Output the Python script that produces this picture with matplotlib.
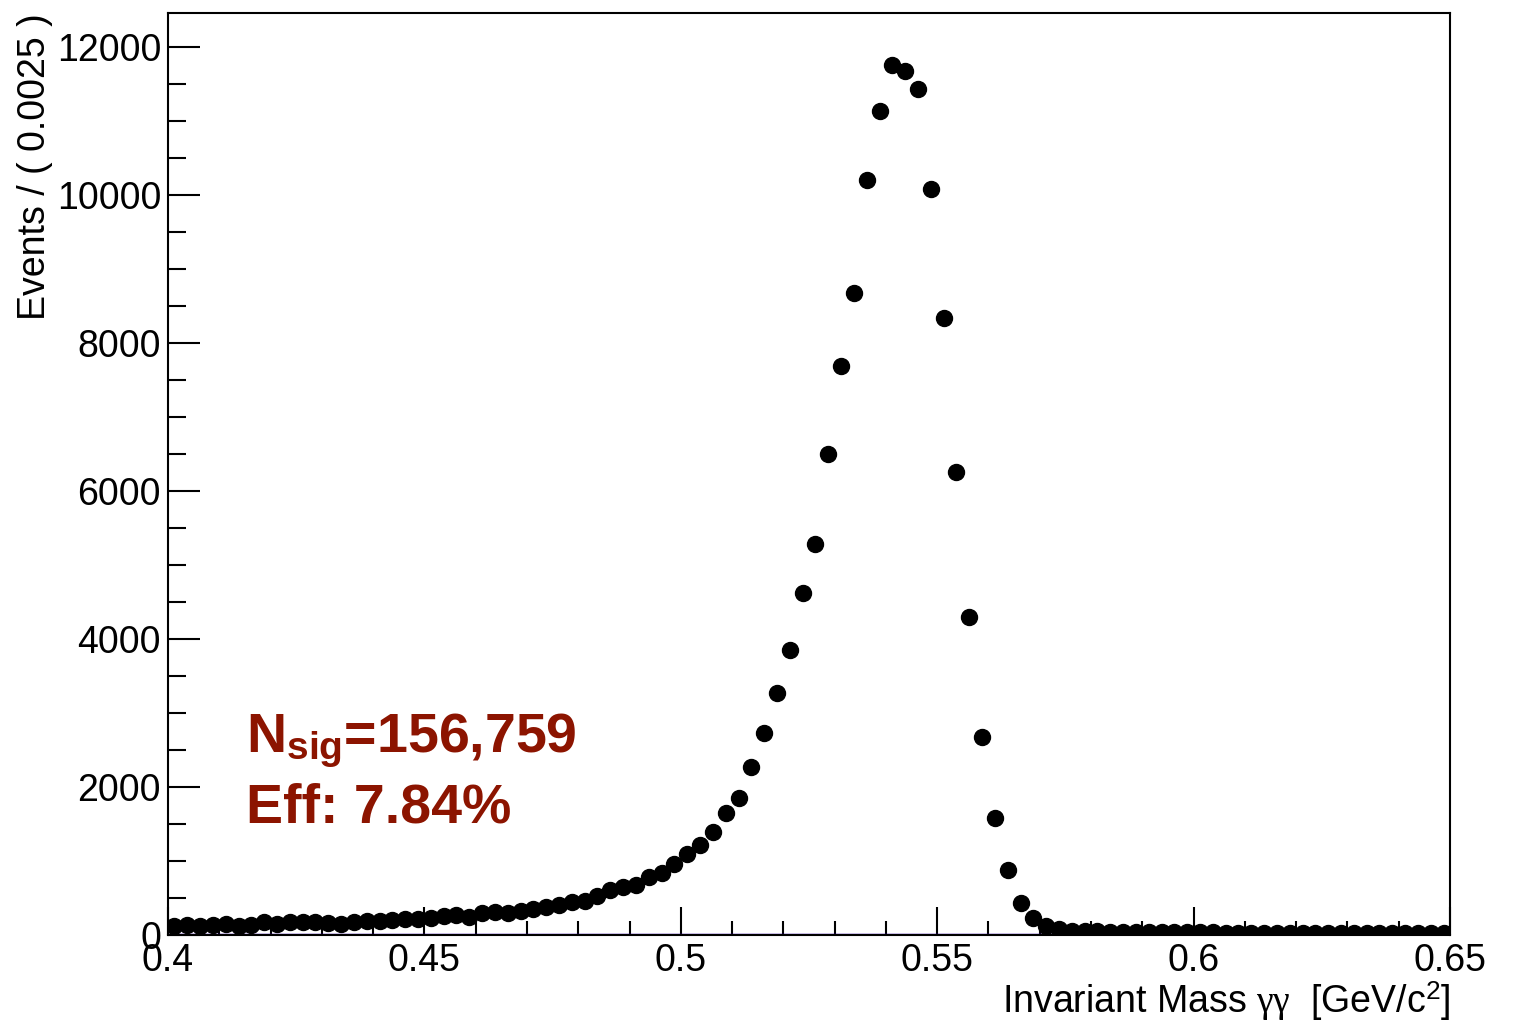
import numpy as np
import matplotlib
matplotlib.use("Agg")
import matplotlib.pyplot as plt
from matplotlib.ticker import MultipleLocator

plt.rcParams["font.family"] = ["Liberation Sans", "DejaVu Sans"]
plt.rcParams["mathtext.fontset"] = "custom"
plt.rcParams["mathtext.rm"] = "Liberation Sans"
plt.rcParams["mathtext.it"] = "Liberation Serif"
plt.rcParams["mathtext.bf"] = "Liberation Sans:bold"

# ===== dados =====
X_MIN, X_MAX, N_BINS = 0.40, 0.65, 100
counts = [
    120, 140, 125, 140, 145, 120, 135, 170, 150, 175,
    180, 175, 165, 155, 175, 190, 185, 200, 210, 215,
    230, 255, 265, 245, 300, 310, 295, 320, 350, 380,
    400, 440, 460, 530, 610, 650, 680, 784, 838, 959,
    1095, 1216, 1392, 1649, 1851, 2270, 2730, 3270, 3851, 4622,
    5284, 6500, 7689, 8676, 10203, 11135, 11757, 11676, 11432, 10081,
    8338, 6257, 4297, 2676, 1581, 878, 432, 230, 120, 80,
    60, 50, 48, 45, 42, 40, 40, 38, 36, 35,
    35, 34, 33, 32, 32, 31, 30, 30, 29, 28,
    28, 27, 27, 26, 26, 25, 25, 24, 24, 23,
]
texto_nsig = r"N$_{\mathbf{sig}}$=156,759"
texto_eff = "Eff: 7.84%"
# ====================================

bin_w = (X_MAX - X_MIN) / N_BINS
centros = X_MIN + bin_w * (np.arange(N_BINS) + 0.5)
y = np.array(counts, dtype=float)
erro = np.sqrt(y)

fig = plt.figure(figsize=(15.15, 10.25), dpi=100)
ax = fig.add_axes([0.1109, 0.0878, 0.8462, 0.8995])

ax.errorbar(centros, y, yerr=erro, fmt="o", color="black", ms=11.5,
            elinewidth=1.5, capsize=0, zorder=3)
ax.axhline(0, color="#3d00b8", lw=2.5, zorder=2)

ax.set_xlim(X_MIN, X_MAX)
ax.set_ylim(0, 12460)
ax.xaxis.set_major_locator(MultipleLocator(0.05))
ax.xaxis.set_minor_locator(MultipleLocator(0.01))
ax.yaxis.set_major_locator(MultipleLocator(2000))
ax.yaxis.set_minor_locator(MultipleLocator(500))
ax.xaxis.set_major_formatter(matplotlib.ticker.FuncFormatter(lambda v, p: f"{v:g}"))

ax.tick_params(axis="both", which="both", direction="in", top=False, right=False,
               labelsize=27, width=1.5)
ax.tick_params(axis="y", which="major", length=23, pad=5)
ax.tick_params(axis="y", which="minor", length=13)
ax.tick_params(axis="x", which="major", length=20, pad=6)
ax.tick_params(axis="x", which="minor", length=10)
for s in ax.spines.values():
    s.set_linewidth(1.5)

ax.set_xlabel(r"Invariant Mass $\gamma\gamma$  [GeV/c$^{2}$]", fontsize=27, loc="right")
ax.xaxis.set_label_coords(1.0, -0.048)
ax.set_ylabel("Events / ( 0.0025 )", fontsize=27, loc="top")
ax.yaxis.set_label_coords(-0.09, 1.0)

ax.text(0.4152, 2473, texto_nsig, fontsize=40, fontweight="bold", color="#8c1400",
        va="baseline")
ax.text(0.4152, 1527, texto_eff, fontsize=40, fontweight="bold", color="#8c1400",
        va="baseline")

fig.savefig("out.png", dpi=100)
